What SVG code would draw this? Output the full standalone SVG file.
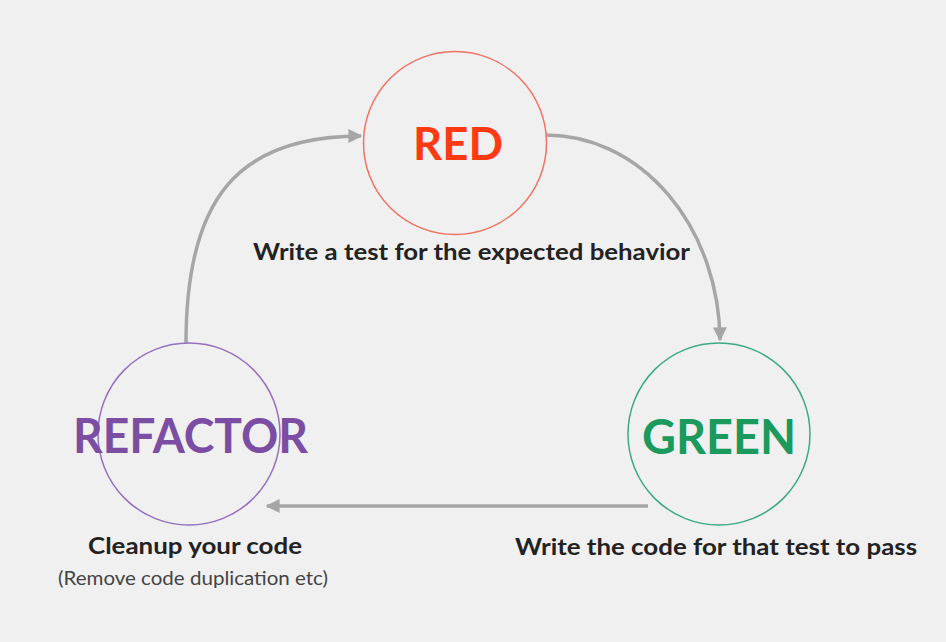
<svg xmlns="http://www.w3.org/2000/svg" width="946" height="642" viewBox="0 0 946 642">
<defs>
<style>
.node{fill:none;stroke-width:1.5}
.title{font-family:"Lato","Open Sans","Liberation Sans",sans-serif;font-weight:700;text-anchor:middle}
.label{font-family:"Lato","Open Sans","Liberation Sans",sans-serif;font-weight:700;fill:#222;font-size:23.5px;text-anchor:middle}
.sub{font-family:"Lato","Open Sans","Liberation Sans",sans-serif;fill:#444;font-size:19.5px;text-anchor:middle}
.conn{fill:none;stroke:#a6a6a6;stroke-width:3.5}
</style>
<marker id="ah" viewBox="0 0 10 10" refX="9" refY="5" markerWidth="4" markerHeight="4" orient="auto" markerUnits="strokeWidth">
<path d="M0,0 L10,5 L0,10 z" fill="#a6a6a6"/>
</marker>
</defs>
<rect width="946" height="642" fill="#f0f0f0"/>
<g id="connectors">
<path class="conn" d="M186,343 C186,198 238,136 361,136" marker-end="url(#ah)"/>
<path class="conn" d="M546,135 A174 207 0 0 1 720,340" marker-end="url(#ah)"/>
<path class="conn" d="M648,506 L267,506" marker-end="url(#ah)"/>
</g>
<g id="red">
<circle class="node" cx="455" cy="143" r="91.5" stroke="#f07262"/>
<text class="title" x="458" y="160" font-size="46" fill="#ff3a12" textLength="90" lengthAdjust="spacingAndGlyphs">RED</text>
<text class="label" x="471.5" y="260" textLength="437" lengthAdjust="spacingAndGlyphs">Write a test for the expected behavior</text>
</g>
<g id="green">
<circle class="node" cx="719" cy="434" r="91" stroke="#3aaa82"/>
<text class="title" x="719" y="454" font-size="47" fill="#1a9a5c" textLength="154" lengthAdjust="spacingAndGlyphs">GREEN</text>
<text class="label" x="716" y="555" textLength="402" lengthAdjust="spacingAndGlyphs">Write the code for that test to pass</text>
</g>
<g id="refactor">
<circle class="node" cx="189" cy="434" r="91" stroke="#9470c0"/>
<text class="title" x="190.5" y="453" font-size="47" fill="#7b4ea3" textLength="235" lengthAdjust="spacingAndGlyphs">REFACTOR</text>
<text class="label" x="195" y="554" textLength="214" lengthAdjust="spacingAndGlyphs">Cleanup your code</text>
<text class="sub" x="193" y="585" textLength="270" lengthAdjust="spacingAndGlyphs">(Remove code duplication etc)</text>
</g>
</svg>
